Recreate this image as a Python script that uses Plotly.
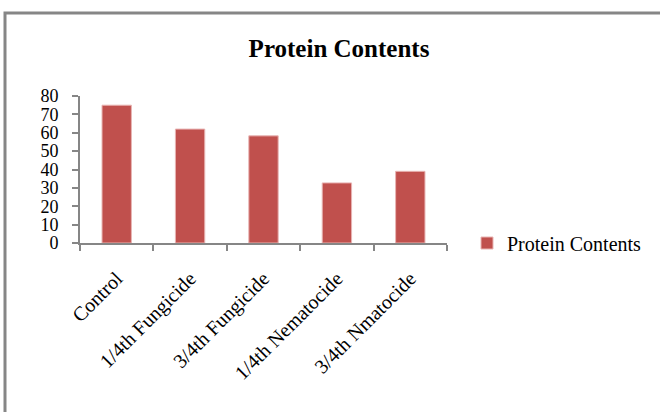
import plotly.graph_objects as go

categories = ["Control", "1/4th Fungicide", "3/4th Fungicide", "1/4th Nematocide", "3/4th Nmatocide"]
protein = [75, 62, 58.3, 32.7, 39]
y_ticks = [0, 10, 20, 30, 40, 50, 60, 70, 80]
series_name = "Protein Contents"
title_text = "Protein Contents"

W, H = 660, 412
L, R, T, B = 80, 447, 96, 243
pw, ph = R - L, B - T

def px(x):
    return (x - L) / pw

def py(y):
    return (B - y) / ph

font = "Liberation Serif, Times New Roman, serif"

fig = go.Figure()
fig.add_trace(go.Bar(
    x=categories, y=protein, name=series_name,
    marker=dict(color="#c0504d", line=dict(color="#e8b4b3", width=1)),
    showlegend=True,
))

fig.update_layout(
    width=W, height=H,
    margin=dict(l=L, r=W - R, t=T, b=H - B, autoexpand=False),
    paper_bgcolor="white", plot_bgcolor="white",
    font=dict(family=font, size=20, color="black"),
    bargap=0.6,
    title=dict(text="<b>" + title_text + "</b>", x=339 / W, xref="container", xanchor="center",
               y=1 - 48 / H, yanchor="middle", font=dict(size=25, family=font)),
    showlegend=True,
    legend=dict(x=px(467), y=py(243), xanchor="left", yanchor="middle",
                font=dict(size=20, family=font), bgcolor="rgba(0,0,0,0)",
                itemwidth=30, tracegroupgap=0),
    xaxis=dict(showline=True, linecolor="#868686", linewidth=2, ticks="outside",
               tickson="boundaries", ticklen=6, tickcolor="#868686", tickwidth=2,
               tickangle=-45, tickfont=dict(size=20, family=font), showgrid=False,
               ticklabelstandoff=14, fixedrange=True),
    yaxis=dict(range=[0, 80], tickvals=y_ticks, showline=True, linecolor="#868686",
               linewidth=2, ticks="outside", ticklen=6, tickcolor="#868686", tickwidth=2,
               tickfont=dict(size=18, family=font), showgrid=False, zeroline=False,
               ticklabelstandoff=10, fixedrange=True),
)

fig.add_shape(type="rect", xref="paper", yref="paper",
              x0=px(5), x1=px(700), y0=py(450), y1=py(13),
              line=dict(color="#868686", width=3), fillcolor="rgba(0,0,0,0)", layer="below")

fig.write_html("out.html", config={"displayModeBar": False},
               post_script="document.body.style.margin='0';document.body.style.overflow='hidden';")
